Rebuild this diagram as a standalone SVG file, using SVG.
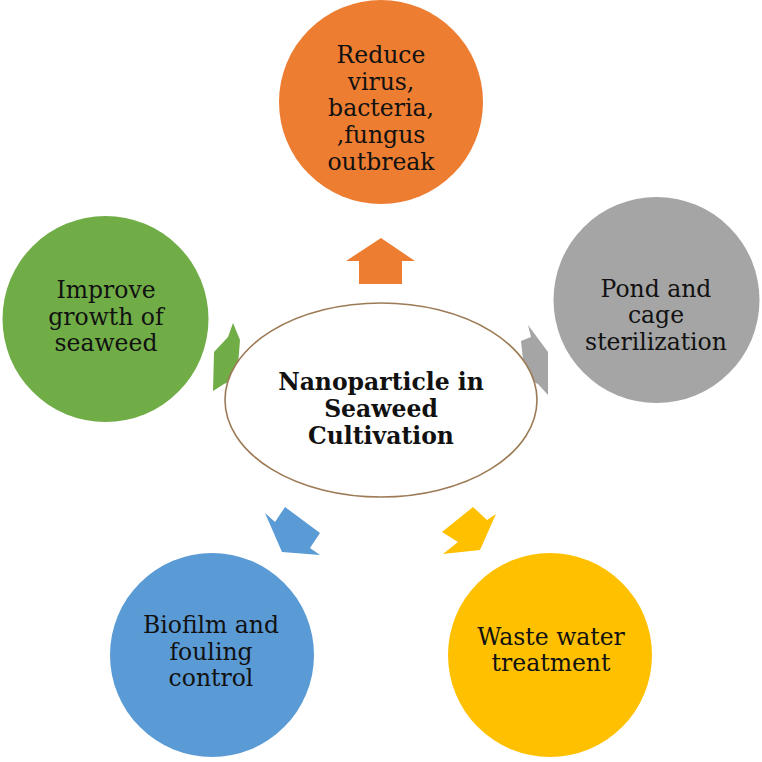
<svg xmlns="http://www.w3.org/2000/svg" width="762" height="762" viewBox="0 0 762 762">
<style>
.t{font-family:"DejaVu Serif","Liberation Serif",serif;font-size:23.5px;fill:#111;text-anchor:middle}
.c{font-family:"DejaVu Serif","Liberation Serif",serif;font-size:23.5px;font-weight:bold;fill:#111;text-anchor:middle}
</style>
<rect width="762" height="762" fill="#ffffff"/>
<g id="connectors">
<polygon points="381,238 415,261 402,261 402,284 359,284 359,261 346,261" fill="#ED7D31"/>
<polygon points="528,325 531,337 521,341 525,378 538,384 548,395 548,352" fill="#A5A5A5"/>
<polygon points="233,323 240,340 237,378 224,384 213,391 214,352 228,337" fill="#70AD47"/>
<polygon points="496,514 480,550 443,554 458,542 442,532 473,507 487,520" fill="#FFC000"/>
<polygon points="265,513 275,522 285,507 320,533 310,548 320,555 282,552" fill="#5B9BD5"/>
</g>
<g id="center">
<ellipse cx="381" cy="400" rx="156" ry="97" fill="#ffffff" stroke="#9C7A55" stroke-width="1.6"/>
<text class="c" x="381" y="390">Nanoparticle in</text>
<text class="c" x="381" y="417">Seaweed</text>
<text class="c" x="381" y="444">Cultivation</text>
</g>
<g id="top">
<circle cx="381" cy="102" r="102" fill="#ED7D31"/>
<text class="t" x="381" y="63">Reduce</text>
<text class="t" x="381" y="90">virus,</text>
<text class="t" x="381" y="116">bacteria,</text>
<text class="t" x="381" y="143">,fungus</text>
<text class="t" x="381" y="170">outbreak</text>
</g>
<g id="right">
<circle cx="656.5" cy="300" r="103" fill="#A5A5A5"/>
<text class="t" x="656" y="297">Pond and</text>
<text class="t" x="656" y="323">cage</text>
<text class="t" x="656" y="350">sterilization</text>
</g>
<g id="left">
<circle cx="105.5" cy="319" r="103" fill="#70AD47"/>
<text class="t" x="106" y="298">Improve</text>
<text class="t" x="106" y="325">growth of</text>
<text class="t" x="106" y="351">seaweed</text>
</g>
<g id="bottom-left">
<circle cx="212" cy="655" r="102" fill="#5B9BD5"/>
<text class="t" x="211" y="633">Biofilm and</text>
<text class="t" x="211" y="660">fouling</text>
<text class="t" x="211" y="686">control</text>
</g>
<g id="bottom-right">
<circle cx="550" cy="655" r="102" fill="#FFC000"/>
<text class="t" x="551" y="645">Waste water</text>
<text class="t" x="551" y="671">treatment</text>
</g>
</svg>
